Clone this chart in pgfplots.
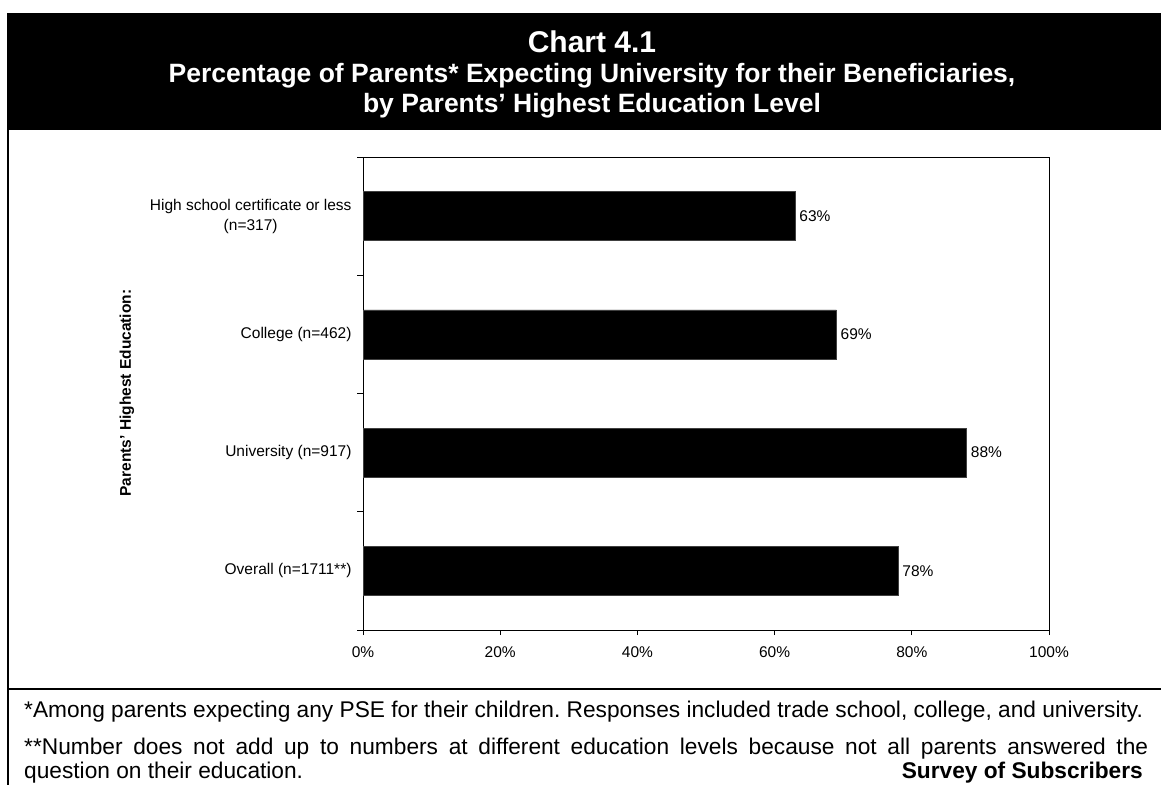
\documentclass[border=0pt]{standalone}
\usepackage{pgfplots}
\pgfplotsset{compat=1.18}
\usepackage{fontspec}
\setmainfont{Liberation Sans}
\begin{document}
\frenchspacing
\begin{tikzpicture}[x=1pt,y=1pt]
\useasboundingbox (0,0) rectangle (1161,785);
\fill[white] (0,0) rectangle (1161,785);
% header band
\fill[black] (7,655) rectangle (1161,772);
\node[white,anchor=base,font=\bfseries\fontsize{30}{34}\selectfont,inner sep=0] at (592,732) {Chart 4.1};
\node[white,anchor=base,font=\bfseries\fontsize{26.5}{30}\selectfont,inner sep=0] at (592,702) {Percentage of Parents* Expecting University for their Beneficiaries,};
\node[white,anchor=base,font=\bfseries\fontsize{26.5}{30}\selectfont,inner sep=0] at (592,672) {by Parents’ Highest Education Level};
% frame
\draw[line width=2.2pt] (8.1,655) -- (8.1,0);
\draw[line width=2.5pt] (7,96) -- (1161,96);
% footer
\node[anchor=base west,font=\fontsize{22.7}{26}\selectfont,inner sep=0] at (24,68) {*Among parents expecting any PSE for their children. Responses included trade school, college, and university.};
\node[anchor=base west,font=\fontsize{22.7}{26}\selectfont,inner sep=0] at (24,31) {\makebox[1124pt][s]{**Number does not add up to numbers at different education levels because not all parents answered the}};
\node[anchor=base west,font=\fontsize{22.7}{26}\selectfont,inner sep=0] at (24,7) {question on their education.};
\node[anchor=base east,font=\bfseries\fontsize{22.7}{26}\selectfont,inner sep=0] at (1143,7) {Survey of Subscribers};
% y label
\node[rotate=90,font=\bfseries\fontsize{15.5}{18}\selectfont,inner sep=0] at (127,392) {Parents’ Highest Education:};
\begin{axis}[
  at={(363pt,155pt)}, anchor=south west,
  width=686pt, height=473pt, scale only axis,
  xbar, bar width=49pt,
  xmin=0, xmax=100,
  ymin=-0.5, ymax=3.5, y dir=reverse,
  axis line style={black, line width=1pt},
  tick align=outside,
  xtick={0,20,40,60,80,100},
  xticklabels={0\%,20\%,40\%,60\%,80\%,100\%},
  xtick pos=bottom,
  ytick pos=left,
  major tick length=5pt,
  minor tick length=6pt,
  tick style={black, line width=1pt},
  ytick={0,1,2,3},
  yticklabels={{High school certificate or less\\(n=317)},{College (n=462)},{University (n=917)},{Overall (n=1711**)}},
  major y tick style={draw=none},
  minor ytick={-0.5,0.5,1.5,2.5,3.5},
  yticklabel style={align=center, font=\fontsize{15.5}{20}\selectfont, xshift=-3pt},
  xticklabel style={font=\fontsize{15.5}{18}\selectfont, yshift=-8pt},
  /pgf/number format/assume math mode=true,
  point meta=x,
  nodes near coords={\pgfmathprintnumber{\pgfplotspointmeta}\%},
  every node near coord/.append style={font=\fontsize{15.5}{18}\selectfont, anchor=west, inner sep=2pt, xshift=2pt},
  clip=false,
]
\addplot[fill=black, draw=black!75, line width=0.6pt] coordinates {(63,0) (69,1) (88,2) (78,3)};
\end{axis}
\end{tikzpicture}
\end{document}
